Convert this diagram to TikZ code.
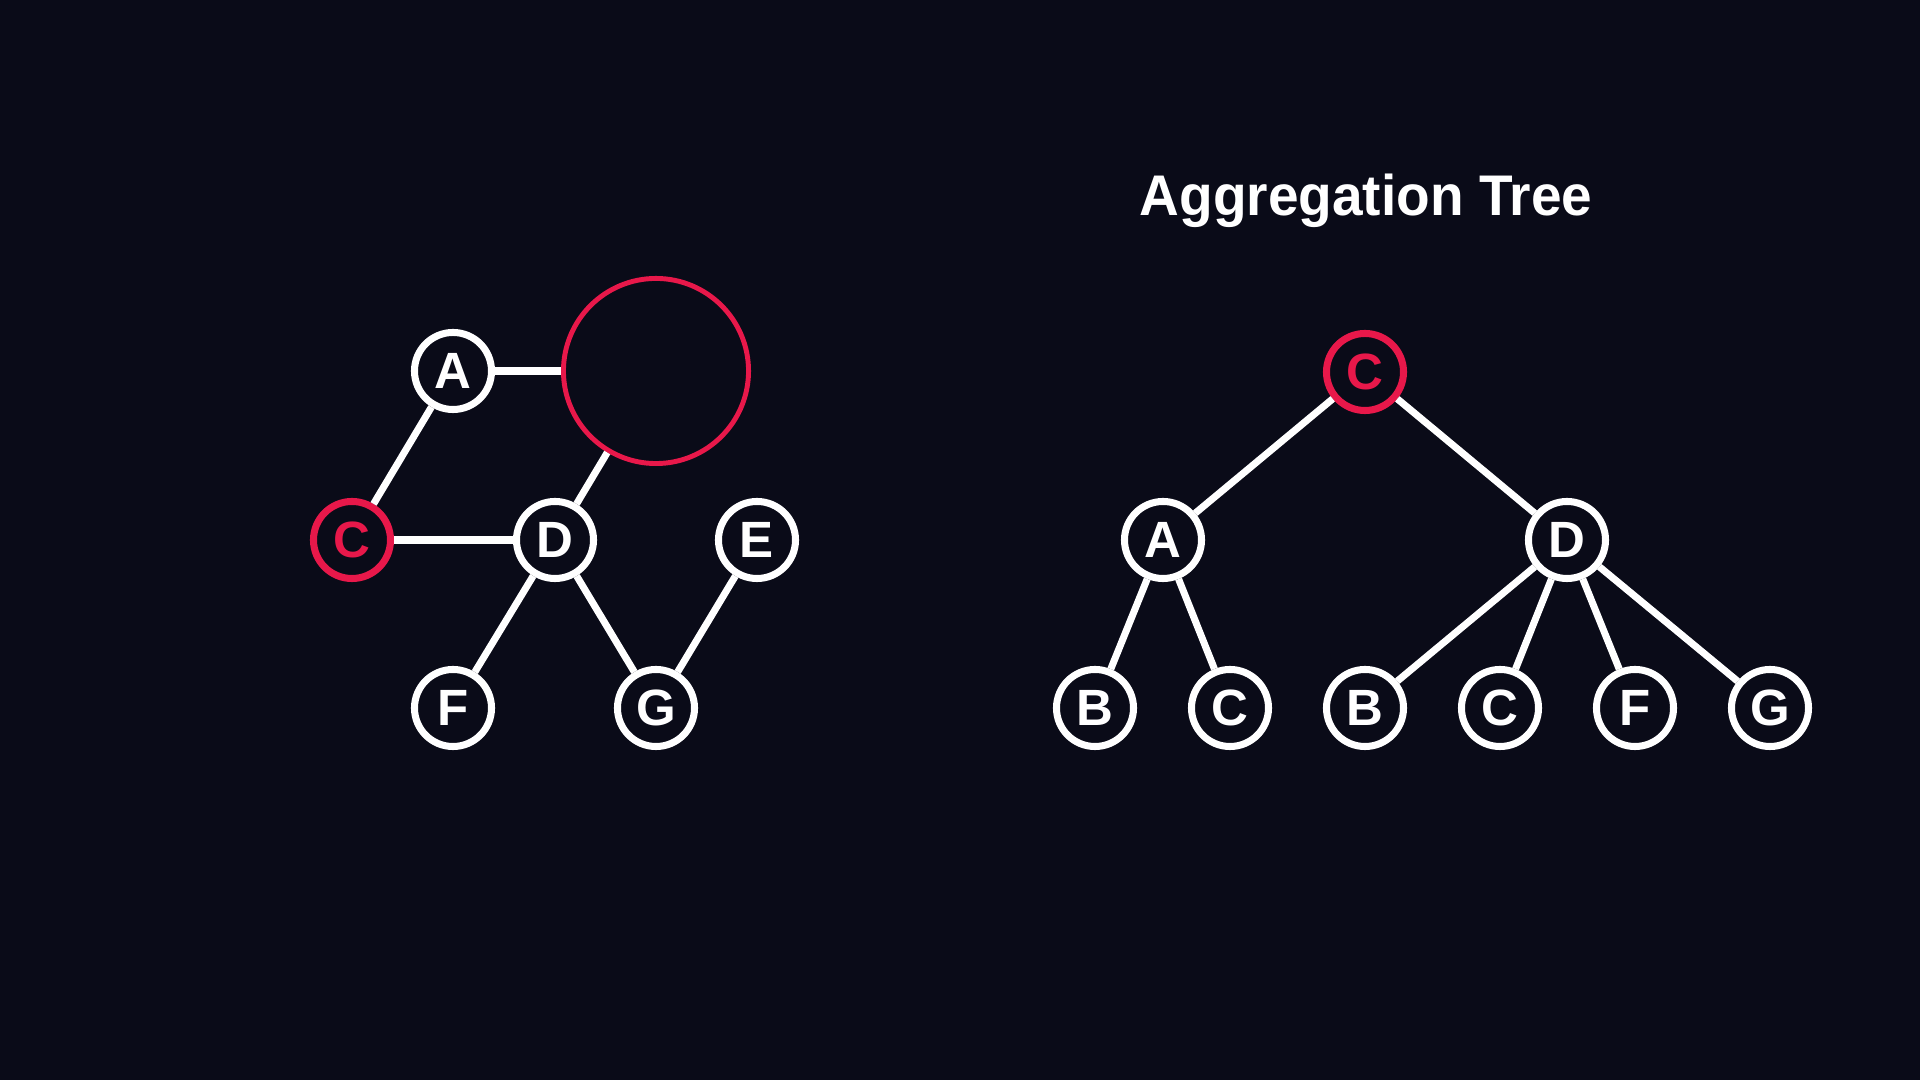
\documentclass[tikz,border=0pt]{standalone}
\usepackage{fontspec}
\setmainfont{Liberation Sans}
\usetikzlibrary{positioning}
\definecolor{bgdark}{RGB}{10,11,24}
\definecolor{hotred}{RGB}{232,24,74}

\begin{document}
\begin{tikzpicture}[x=0.01cm, y=-0.01cm,
    vertex/.style={circle, draw=white, line width=2pt, minimum size=0.77cm, inner sep=0pt,
                   text=white, font=\fontsize{14.5}{17}\selectfont\bfseries},
    redvertex/.style={vertex, draw=hotred, text=hotred},
    hole/.style={circle, draw=hotred, line width=1.4pt, minimum size=1.85cm, inner sep=0pt},
    link/.style={draw=white, line width=2pt}]
    \fill[bgdark] (0,0) rectangle (1920,1080);
    \useasboundingbox (0,0) rectangle (1920,1080);

    % Graph nodes
    \node (a) [vertex] at (453,371) {A};
    \node (hole) [hole] at (656,371) {};
    \node (c) [redvertex] at (352,540) {C};
    \node (d) [vertex] at (555,540) {D};
    \node (e) [vertex] at (757,540) {E};
    \node (f) [vertex] at (453,708) {F};
    \node (g) [vertex] at (656,708) {G};

    % Graph edges
    \draw[link] (a) -- (hole);
    \draw[link] (a) -- (c);
    \draw[link] (c) -- (d);
    \draw[link] (d) -- (hole);
    \draw[link] (d) -- (f);
    \draw[link] (d) -- (g);
    \draw[link] (e) -- (g);

    % Tree nodes
    \node (title) [anchor=base, text=white, font=\fontsize{16.3}{19}\selectfont\bfseries] at (1366,216)
        {\scalebox{0.96}[1]{Aggregation Tree}};
    \node (troot) [redvertex] at (1365,372) {C};
    \node (ta) [vertex] at (1163,540) {A};
    \node (td) [vertex] at (1567,540) {D};
    \node (tb1) [vertex] at (1095,708) {B};
    \node (tc1) [vertex] at (1230,708) {C};
    \node (tb2) [vertex] at (1365,708) {B};
    \node (tc2) [vertex] at (1500,708) {C};
    \node (tf) [vertex] at (1635,708) {F};
    \node (tg) [vertex] at (1770,708) {G};

    % Tree edges
    \draw[link] (troot) -- (ta);
    \draw[link] (troot) -- (td);
    \draw[link] (ta) -- (tb1);
    \draw[link] (ta) -- (tc1);
    \draw[link] (td) -- (tb2);
    \draw[link] (td) -- (tc2);
    \draw[link] (td) -- (tf);
    \draw[link] (td) -- (tg);
\end{tikzpicture}
\end{document}
